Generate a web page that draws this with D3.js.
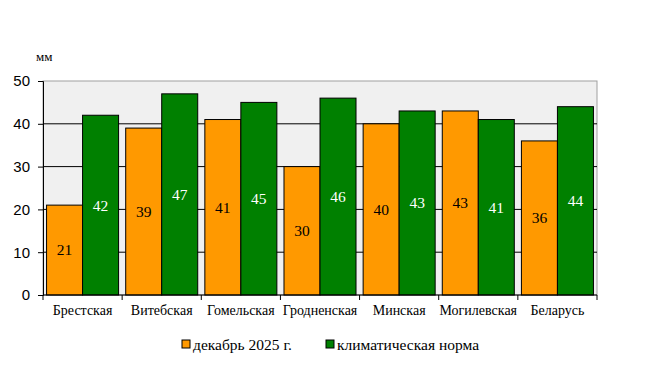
<!DOCTYPE html>
<html lang="ru">
<head>
<meta charset="utf-8">
<title>Осадки</title>
<script src="https://d3js.org/d3.v7.min.js"></script>
<style>
  body { margin: 0; background: #fff; }
  text { font-family: "Liberation Serif", "Times New Roman", serif; }
  .yaxis text { font-family: "Liberation Sans", Arial, sans-serif; }
</style>
</head>
<body>
<script>
  var regions = ["Брестская", "Витебская", "Гомельская", "Гродненская", "Минская", "Могилевская", "Беларусь"];
  var dec2025 = [21, 39, 41, 30, 40, 43, 36];
  var norm = [42, 47, 45, 46, 43, 41, 44];
  var yTicks = [0, 10, 20, 30, 40, 50];
  var seriesNames = ["декабрь 2025 г.", "климатическая норма"];
  var seriesColors = ["#ff9900", "#008000"];

  var width = 649, height = 384;
  var plotL = 43, plotR = 597, plotT = 81, plotB = 295;

  var svg = d3.select("body").append("svg")
      .attr("width", width).attr("height", height);

  var x = d3.scaleBand().domain(regions).range([plotL, plotR]).paddingInner(0.09).paddingOuter(0.045);
  var xs = d3.scaleBand().domain([0, 1]).range([0, x.bandwidth()]);
  var y = d3.scaleLinear().domain([0, 50]).range([plotB, plotT]);

  // plot background
  svg.append("rect").attr("x", plotL).attr("y", plotT)
     .attr("width", plotR - plotL).attr("height", plotB - plotT)
     .attr("fill", "#f0f0f0").attr("stroke", "#a0a0a0");

  // gridlines
  svg.selectAll(".grid").data(yTicks.slice(1, -1)).enter().append("line")
     .attr("x1", plotL).attr("x2", plotR)
     .attr("y1", function(d){ return y(d); }).attr("y2", function(d){ return y(d); })
     .attr("stroke", "#000").attr("stroke-width", 1);

  var series = [dec2025, norm];
  series.forEach(function(vals, si) {
    var g = svg.append("g");
    g.selectAll("rect").data(vals).enter().append("rect")
      .attr("x", function(d, i){ return x(regions[i]) + xs(si); })
      .attr("y", function(d){ return y(d); })
      .attr("width", xs.bandwidth())
      .attr("height", function(d){ return y(0) - y(d); })
      .attr("fill", seriesColors[si]).attr("stroke", "#000").attr("stroke-width", 1);
    g.selectAll("text").data(vals).enter().append("text")
      .attr("x", function(d, i){ return x(regions[i]) + xs(si) + xs.bandwidth() / 2; })
      .attr("y", function(d){ return (y(d) + y(0)) / 2; })
      .attr("dy", "0.35em")
      .attr("text-anchor", "middle")
      .attr("font-size", 15.5)
      .attr("fill", si === 0 ? "#000" : "#fff")
      .text(function(d){ return d; });
  });

  // y axis
  var yAxis = svg.append("g").attr("class", "yaxis").attr("transform", "translate(" + plotL + ",0)")
     .call(d3.axisLeft(y).tickValues(yTicks).tickSize(5).tickPadding(8));
  yAxis.select(".domain").attr("stroke", "#000");
  yAxis.selectAll("text").attr("font-size", 15).attr("fill", "#000");

  // x axis
  var xAxis = svg.append("g").attr("transform", "translate(0," + plotB + ")");
  xAxis.append("line").attr("x1", plotL).attr("x2", plotR).attr("stroke", "#000");
  var bounds = d3.range(regions.length + 1).map(function(i){ return plotL + i * (plotR - plotL) / regions.length; });
  xAxis.selectAll(".tk").data(bounds).enter().append("line")
     .attr("x1", function(d){ return d; }).attr("x2", function(d){ return d; })
     .attr("y1", 0).attr("y2", 5).attr("stroke", "#000");
  xAxis.selectAll(".lbl").data(regions).enter().append("text")
     .attr("x", function(d){ return x(d) + x.bandwidth() / 2; })
     .attr("y", 20)
     .attr("text-anchor", "middle")
     .attr("font-size", 14)
     .text(function(d){ return d; });

  svg.append("text").attr("x", 36).attr("y", 61).attr("font-size", 13).text("мм");

  // legend
  var legendX = [182, 326];
  seriesNames.forEach(function(name, i) {
    svg.append("rect").attr("x", legendX[i]).attr("y", 340).attr("width", 8).attr("height", 8)
       .attr("fill", seriesColors[i]).attr("stroke", "#000");
    svg.append("text").attr("x", legendX[i] + 11).attr("y", 350).attr("font-size", 15.5).text(name);
  });
</script>
</body>
</html>
